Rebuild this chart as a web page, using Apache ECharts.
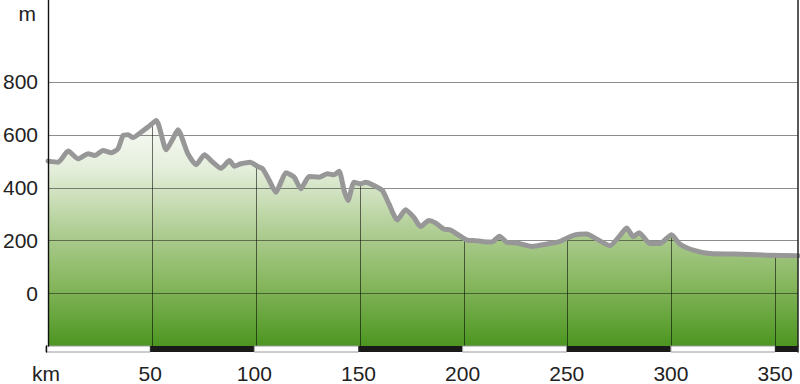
<!DOCTYPE html>
<html>
<head>
<meta charset="utf-8">
<style>
  html, body { margin: 0; padding: 0; background: #fff; }
  #chart { width: 800px; height: 384px; }
</style>
<script src="https://cdn.jsdelivr.net/npm/echarts@6/dist/echarts.min.js"></script>
</head>
<body>
<div id="chart"></div>
<script>
// Distance along route (km) and elevation (m)
var distanceKm = [0, 4.9, 9.7, 14.5, 19.3, 22.5, 26.5, 30.5, 33.7, 36.1, 38.5, 40.9, 44.9, 48.1, 52.1, 56.9, 60.1, 62.5, 67.3, 71.3, 75.3, 79.3, 83.3, 87.3, 89.7, 92.9, 97.3, 100.9, 103.3, 106.5, 109.7, 112.1, 114.5, 118.5, 121.7, 125.7, 130.5, 134.5, 137.7, 140.1, 142.5, 144.4, 147.3, 150.5, 152.9, 156.9, 160.9, 164.1, 168.1, 172.1, 176.1, 179.3, 183.3, 186.5, 190.5, 193.7, 197.7, 201.7, 205.7, 209.7, 213.7, 217.3, 220.9, 225.7, 232.9, 240.1, 246.5, 252.9, 259.3, 264.1, 270.5, 275.3, 278.5, 281.7, 284.5, 289.7, 294.5, 300.1, 304.1, 310.5, 318.5, 329.7, 345.7, 361];
var elevationM = [500, 496, 538, 509, 528, 521, 540, 532, 547, 597, 600, 589, 610, 629, 654, 543, 585, 619, 528, 486, 524, 496, 473, 502, 481, 490, 496, 480, 471, 427, 382, 420, 456, 439, 395, 442, 439, 452, 448, 462, 389, 351, 420, 414, 420, 408, 389, 338, 277, 316, 287, 252, 275, 266, 243, 239, 220, 201, 199, 195, 194, 216, 192, 190, 177, 186, 196, 219, 224, 205, 180, 218, 247, 214, 229, 188, 188, 221, 186, 163, 150, 148, 144, 142];

// Axis ticks
var xTicks = [50, 100, 150, 200, 250, 300, 350];
var yTicks = [0, 200, 400, 600, 800];
var xMin = 0, xMax = 361, yMin = -200, yMax = 1110;

// Scale bar segments (km)
var bandSegments = [[0, 50], [50, 100], [100, 150], [150, 200], [200, 250], [250, 300], [300, 350], [350, 361]];

var profile = distanceKm.map(function (d, i) { return [d, elevationM[i]]; });
var FONT = "'Liberation Sans', Arial, Helvetica, sans-serif";
var SMOOTH = 0.2;

var chart = echarts.init(document.getElementById('chart'), null, { renderer: 'svg' });

var greenGrad = new echarts.graphic.LinearGradient(0, 110, 0, 346, [
  { offset: 0, color: '#ffffff' },
  { offset: 0.25, color: '#e4eedb' },
  { offset: 0.5, color: '#b2cf97' },
  { offset: 0.74, color: '#86b65d' },
  { offset: 1, color: '#4c9621' }
], true);

var option = {
  animation: false,
  backgroundColor: '#ffffff',
  grid: [
    { left: 46, right: 2, top: 0, height: 346 },
    { left: 46, right: 2, top: 346, height: 7 }
  ],
  xAxis: [
    { type: 'value', gridIndex: 0, min: xMin, max: xMax, interval: 50,
      axisLine: { show: false }, axisTick: { show: false }, axisLabel: { show: false }, splitLine: { show: false } },
    { type: 'value', gridIndex: 1, min: xMin, max: xMax, interval: 50,
      axisLine: { show: false }, axisTick: { show: false }, splitLine: { show: false },
      axisLabel: {
        margin: 11, fontSize: 21, color: '#222', fontFamily: FONT,
        showMaxLabel: false,
        formatter: function (v) { return v === 0 ? 'km' : (xTicks.indexOf(v) >= 0 ? String(v) : ''); }
      } }
  ],
  yAxis: [
    { type: 'value', gridIndex: 0, min: yMin, max: yMax, interval: 200, position: 'left', z: 10,
      axisLine: { show: true, lineStyle: { color: '#111', width: 1.4 } },
      axisTick: { show: false }, splitLine: { show: false },
      axisLabel: {
        margin: 10, fontSize: 21, color: '#222', fontFamily: FONT,
        showMaxLabel: false, showMinLabel: false,
        formatter: function (v) { return yTicks.indexOf(v) >= 0 ? String(v) : ''; }
      } },
    { type: 'value', gridIndex: 0, min: yMin, max: yMax, position: 'right', z: 10,
      axisLine: { show: true, lineStyle: { color: '#222', width: 1.5 } },
      axisTick: { show: false }, axisLabel: { show: false }, splitLine: { show: false } },
    { type: 'value', gridIndex: 1, min: 0, max: 1, position: 'left', z: 10,
      axisLine: { show: true, lineStyle: { color: '#111', width: 1.4 } },
      axisTick: { show: false }, axisLabel: { show: false }, splitLine: { show: false } },
    { type: 'value', gridIndex: 1, min: 0, max: 1, position: 'right', z: 10,
      axisLine: { show: true, lineStyle: { color: '#222', width: 1.5 } },
      axisTick: { show: false }, axisLabel: { show: false }, splitLine: { show: false } }
  ],
  graphic: [
    { type: 'text', z: 20, style: { text: 'm', x: 36, y: 13, align: 'right', verticalAlign: 'middle',
      font: '21px ' + FONT, fill: '#222' } }
  ],
  series: [
    // green fill
    { type: 'line', xAxisIndex: 0, yAxisIndex: 0, data: profile, smooth: SMOOTH, symbol: 'none', z: 1,
      lineStyle: { width: 0 }, areaStyle: { color: greenGrad, opacity: 1, origin: 'start' } },
    // vertical grid lines (covered above the profile by the sky)
    { type: 'custom', xAxisIndex: 0, yAxisIndex: 0, z: 2, silent: true,
      data: xTicks.map(function (v) { return [v, yMin]; }),
      renderItem: function (params, api) {
        var cs = params.coordSys;
        var x = Math.round(api.coord([api.value(0), yMin])[0]) + 0.5;
        return { type: 'line', shape: { x1: x, y1: cs.y, x2: x, y2: cs.y + cs.height },
          style: { stroke: 'rgba(0,0,0,0.55)', lineWidth: 1 } };
      } },
    // white sky above the profile
    { type: 'line', xAxisIndex: 0, yAxisIndex: 0, data: profile, smooth: SMOOTH, symbol: 'none', z: 3,
      lineStyle: { width: 0 }, areaStyle: { color: '#ffffff', opacity: 1, origin: 'end' } },
    // horizontal grid lines
    { type: 'custom', xAxisIndex: 0, yAxisIndex: 0, z: 4, silent: true,
      data: yTicks.map(function (v) { return [xMin, v]; }),
      renderItem: function (params, api) {
        var cs = params.coordSys;
        var y = Math.round(api.coord([xMin, api.value(1)])[1]) + 0.5;
        return { type: 'line', shape: { x1: cs.x, y1: y, x2: cs.x + cs.width, y2: y },
          style: { stroke: 'rgba(0,0,0,0.45)', lineWidth: 1 } };
      } },
    // profile line
    { type: 'line', xAxisIndex: 0, yAxisIndex: 0, data: profile, smooth: SMOOTH, symbol: 'none', z: 5,
      lineStyle: { color: '#979797', width: 5, cap: 'round', join: 'round' } },
    // distance scale bar
    { type: 'custom', xAxisIndex: 1, yAxisIndex: 2, z: 5, silent: true,
      data: bandSegments.map(function (s, i) { return [s[0], s[1], i % 2]; }),
      renderItem: function (params, api) {
        var p0 = api.coord([api.value(0), 1]);
        var p1 = api.coord([api.value(1), 0]);
        var dark = api.value(2) === 1;
        return { type: 'rect', shape: { x: p0[0], y: p0[1], width: p1[0] - p0[0], height: p1[1] - p0[1] },
          style: dark ? { fill: '#1a1a1a' } : { fill: '#ffffff', stroke: '#999', lineWidth: 1 } };
      } }
  ]
};
chart.setOption(option);
</script>
</body>
</html>
